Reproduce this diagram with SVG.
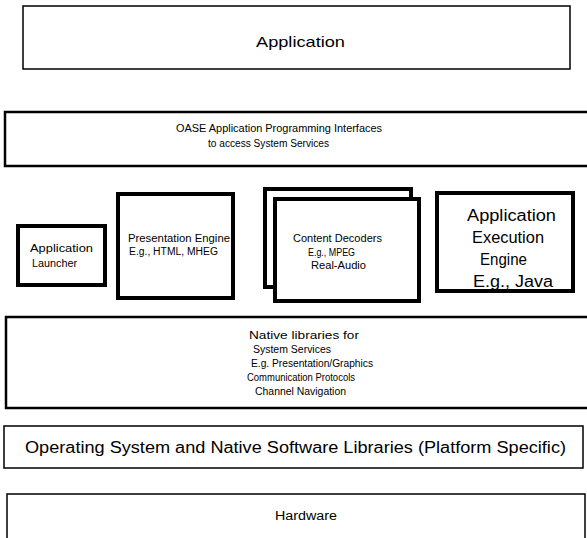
<svg xmlns="http://www.w3.org/2000/svg" width="587" height="538" viewBox="0 0 587 538">
<style>
rect{fill:#fff;stroke:#000}
.thin{stroke-width:1.5}
.mid{stroke-width:2.5}
.thick{stroke-width:4}
text{font-family:"Liberation Sans",Arial,sans-serif;fill:#000;text-anchor:start}
.s{font-size:10px}
.m{font-size:12px}
.l{font-size:15px}
.xl{font-size:16px}
</style>
<rect width="587" height="538" style="fill:#fff;stroke:none"/>
<g id="application">
<rect class="thin" x="23" y="6" width="547" height="63"/>
<text class="l" x="256" y="47" textLength="89" lengthAdjust="spacingAndGlyphs">Application</text>
</g>
<g id="oase-api">
<rect class="mid" x="5" y="112" width="590" height="54"/>
<text class="s" x="176" y="132" textLength="206" lengthAdjust="spacingAndGlyphs">OASE Application Programming Interfaces</text>
<text class="s" x="208" y="147" textLength="121" lengthAdjust="spacingAndGlyphs">to access System Services</text>
</g>
<g id="app-launcher">
<rect class="thick" x="18" y="226" width="87" height="59"/>
<text class="s" x="30" y="252" textLength="63" lengthAdjust="spacingAndGlyphs">Application</text>
<text class="s" x="32" y="267" textLength="45" lengthAdjust="spacingAndGlyphs">Launcher</text>
</g>
<g id="presentation-engine">
<rect class="thick" x="118" y="194" width="115" height="104"/>
<text class="s" x="128" y="242" textLength="102" lengthAdjust="spacingAndGlyphs">Presentation Engine</text>
<text class="s" x="129" y="255" textLength="89" lengthAdjust="spacingAndGlyphs">E.g., HTML, MHEG</text>
</g>
<g id="content-decoders">
<rect class="thick" x="265" y="189" width="146" height="98"/>
<rect class="thick" x="275" y="199" width="144" height="102"/>
<text class="s" x="293" y="242" textLength="89" lengthAdjust="spacingAndGlyphs">Content Decoders</text>
<text class="s" x="308" y="256" textLength="47" lengthAdjust="spacingAndGlyphs">E.g., MPEG</text>
<text class="s" x="311" y="269" textLength="55" lengthAdjust="spacingAndGlyphs">Real-Audio</text>
</g>
<g id="exec-engine">
<rect class="thick" x="437" y="193" width="136" height="98"/>
<text class="xl" x="467" y="221" textLength="89" lengthAdjust="spacingAndGlyphs">Application</text>
<text class="xl" x="472" y="243" textLength="72" lengthAdjust="spacingAndGlyphs">Execution</text>
<text class="xl" x="480" y="265" textLength="47" lengthAdjust="spacingAndGlyphs">Engine</text>
<text class="xl" x="473" y="287" textLength="80" lengthAdjust="spacingAndGlyphs">E.g., Java</text>
</g>
<g id="native-libs">
<rect class="mid" x="6" y="317" width="590" height="91"/>
<text class="s" x="249" y="339" textLength="110" lengthAdjust="spacingAndGlyphs">Native libraries for</text>
<text class="s" x="253" y="353" textLength="78" lengthAdjust="spacingAndGlyphs">System Services</text>
<text class="s" x="251" y="367" textLength="122" lengthAdjust="spacingAndGlyphs">E.g. Presentation/Graphics</text>
<text class="s" x="247" y="381" textLength="108" lengthAdjust="spacingAndGlyphs">Communication Protocols</text>
<text class="s" x="255" y="395" textLength="91" lengthAdjust="spacingAndGlyphs">Channel Navigation</text>
</g>
<g id="os">
<rect class="thin" x="4" y="426" width="579" height="42"/>
<text class="xl" x="25" y="453" textLength="541" lengthAdjust="spacingAndGlyphs">Operating System and Native Software Libraries (Platform Specific)</text>
</g>
<g id="hardware">
<rect class="thin" x="7" y="494" width="578" height="48"/>
<text class="m" x="275" y="520" textLength="62" lengthAdjust="spacingAndGlyphs">Hardware</text>
</g>
<g id="connectors"></g>
</svg>
